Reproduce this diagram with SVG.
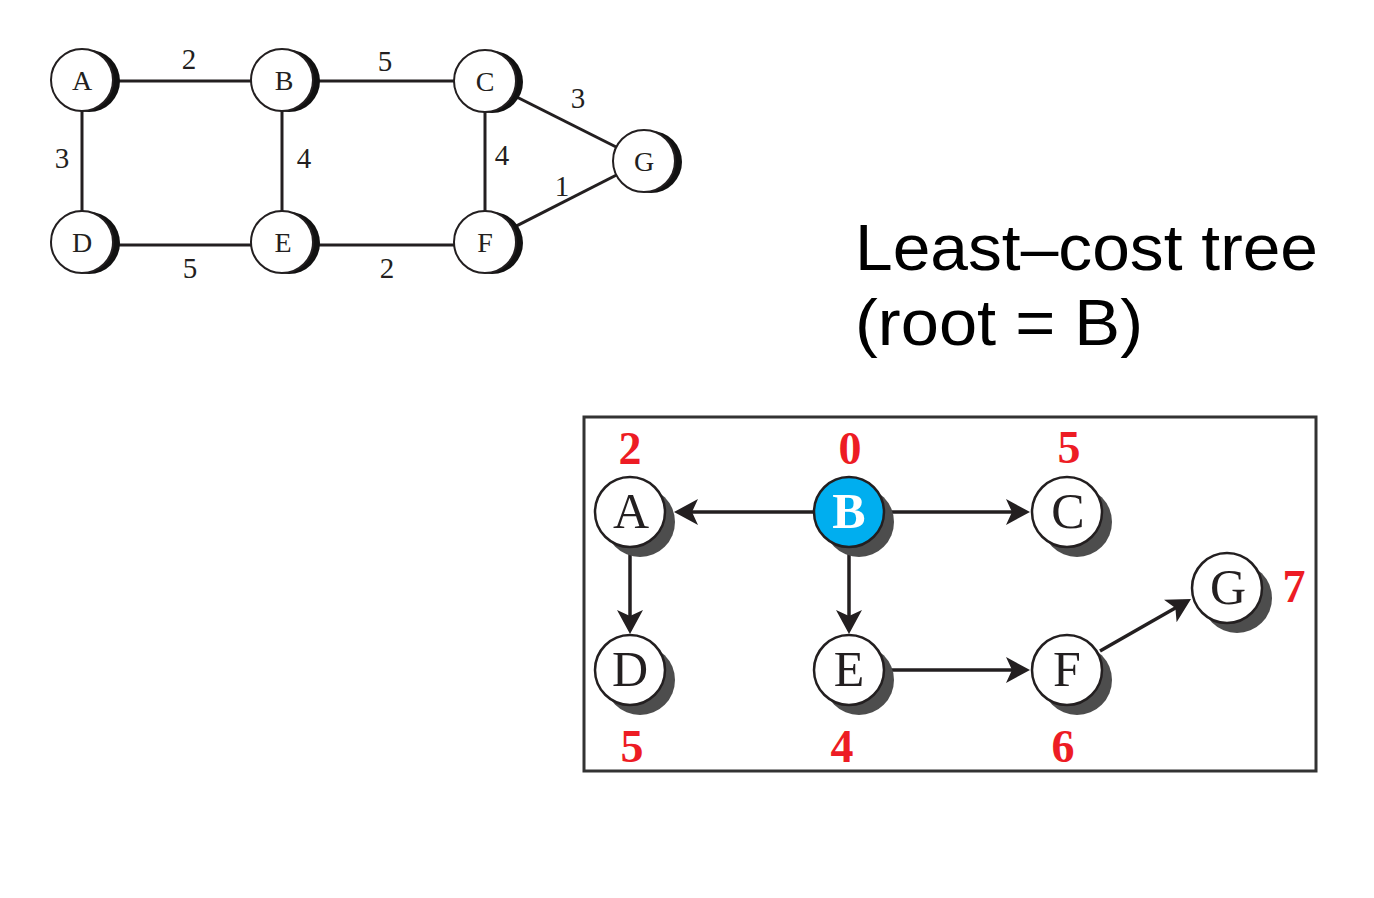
<svg xmlns="http://www.w3.org/2000/svg" width="1374" height="898" viewBox="0 0 1374 898">
<style>
.edge{stroke:#231f20;stroke-width:3;fill:none}
.n1{fill:#fff;stroke:#231f20;stroke-width:2}
.sh1{fill:#111}
.t1{font-family:"Liberation Serif","Times New Roman",serif;font-size:28px;fill:#231f20;text-anchor:middle}
.w1{font-family:"Liberation Serif","Times New Roman",serif;font-size:29px;fill:#231f20;text-anchor:middle}
.arr{stroke:#231f20;stroke-width:3.5;fill:none;marker-end:url(#ah)}
.n2{fill:#fff;stroke:#231f20;stroke-width:2.5}
.sh2{fill:#4d4d4d}
.t2{font-family:"Liberation Serif","Times New Roman",serif;font-size:50px;fill:#231f20;text-anchor:middle}
.c2{font-family:"Liberation Serif","Times New Roman",serif;font-size:46px;font-weight:bold;fill:#ed1c24;text-anchor:middle}
.title{font-family:"Liberation Sans",Arial,sans-serif;font-size:64px;fill:#000}
</style>
<defs>
<marker id="ah" markerUnits="userSpaceOnUse" markerWidth="30" markerHeight="30" refX="18" refY="13" orient="auto">
<path d="M24,13 L0,0 L6,13 L0,26 Z" fill="#231f20"/>
</marker>
</defs>

<!-- Top graph -->
<g id="graph-edges">
<line class="edge" x1="82" y1="81" x2="282" y2="81"/>
<line class="edge" x1="282" y1="81" x2="485" y2="81"/>
<line class="edge" x1="82" y1="80" x2="82" y2="242"/>
<line class="edge" x1="282" y1="80" x2="282" y2="242"/>
<line class="edge" x1="485" y1="81" x2="485" y2="242"/>
<line class="edge" x1="82" y1="245" x2="282" y2="245"/>
<line class="edge" x1="282" y1="245" x2="485" y2="245"/>
<line class="edge" x1="485" y1="81" x2="644" y2="161"/>
<line class="edge" x1="485" y1="242" x2="644" y2="161"/>
</g>
<g id="graph-weights">
<text class="w1" x="189" y="69">2</text>
<text class="w1" x="385" y="71">5</text>
<text class="w1" x="62" y="168">3</text>
<text class="w1" x="304" y="168">4</text>
<text class="w1" x="502" y="165">4</text>
<text class="w1" x="578" y="108">3</text>
<text class="w1" x="562" y="196">1</text>
<text class="w1" x="190" y="278">5</text>
<text class="w1" x="387" y="278">2</text>
</g>
<g id="gA"><circle class="sh1" cx="89" cy="81" r="31"/><circle class="n1" cx="82" cy="80" r="31"/><text class="t1" x="82" y="90">A</text></g>
<g id="gB"><circle class="sh1" cx="289" cy="81" r="31"/><circle class="n1" cx="282" cy="80" r="31"/><text class="t1" x="284" y="90">B</text></g>
<g id="gC"><circle class="sh1" cx="492" cy="82" r="31"/><circle class="n1" cx="485" cy="81" r="31"/><text class="t1" x="485" y="91">C</text></g>
<g id="gD"><circle class="sh1" cx="89" cy="243" r="31"/><circle class="n1" cx="82" cy="242" r="31"/><text class="t1" x="82" y="252">D</text></g>
<g id="gE"><circle class="sh1" cx="289" cy="243" r="31"/><circle class="n1" cx="282" cy="242" r="31"/><text class="t1" x="283" y="252">E</text></g>
<g id="gF"><circle class="sh1" cx="492" cy="243" r="31"/><circle class="n1" cx="485" cy="242" r="31"/><text class="t1" x="485" y="252">F</text></g>
<g id="gG"><circle class="sh1" cx="651" cy="162" r="31"/><circle class="n1" cx="644" cy="161" r="31"/><text class="t1" x="644" y="171">G</text></g>

<!-- Title -->
<g id="title">
<text class="title" x="855" y="270" textLength="463" lengthAdjust="spacingAndGlyphs">Least–cost tree</text>
<text class="title" x="855" y="345" textLength="288" lengthAdjust="spacingAndGlyphs">(root = B)</text>
</g>

<!-- Bottom tree -->
<rect id="frame" x="584" y="417" width="732" height="354" fill="none" stroke="#333" stroke-width="3"/>
<g id="tree-edges">
<line class="arr" x1="813" y1="512" x2="680" y2="512"/>
<line class="arr" x1="885" y1="512" x2="1024" y2="512"/>
<line class="arr" x1="630" y1="548" x2="630" y2="628"/>
<line class="arr" x1="849" y1="548" x2="849" y2="628"/>
<line class="arr" x1="885" y1="670" x2="1024" y2="670"/>
<line class="arr" x1="1100" y1="651" x2="1185.8" y2="602"/>
</g>
<g id="tA"><circle class="sh2" cx="640" cy="522" r="35"/><circle class="n2" cx="630" cy="512" r="35"/><text class="t2" x="631" y="528">A</text></g>
<g id="tB"><circle class="sh2" cx="859" cy="522" r="35"/><circle cx="849" cy="512" r="35" fill="#00aeef" stroke="#231f20" stroke-width="2.5"/><text class="t2" x="849" y="528" style="fill:#fff;font-weight:bold">B</text></g>
<g id="tC"><circle class="sh2" cx="1077" cy="522" r="35"/><circle class="n2" cx="1067" cy="512" r="35"/><text class="t2" x="1068" y="528">C</text></g>
<g id="tD"><circle class="sh2" cx="640" cy="680" r="35"/><circle class="n2" cx="630" cy="670" r="35"/><text class="t2" x="630" y="686">D</text></g>
<g id="tE"><circle class="sh2" cx="859" cy="680" r="35"/><circle class="n2" cx="849" cy="670" r="35"/><text class="t2" x="849" y="686">E</text></g>
<g id="tF"><circle class="sh2" cx="1077" cy="680" r="35"/><circle class="n2" cx="1067" cy="670" r="35"/><text class="t2" x="1067" y="686">F</text></g>
<g id="tG"><circle class="sh2" cx="1237" cy="598" r="35"/><circle class="n2" cx="1227" cy="588" r="35"/><text class="t2" x="1228" y="604">G</text></g>
<g id="costs">
<text class="c2" x="630" y="464">2</text>
<text class="c2" x="850" y="464">0</text>
<text class="c2" x="1069" y="463">5</text>
<text class="c2" x="1294" y="602">7</text>
<text class="c2" x="632" y="762">5</text>
<text class="c2" x="842" y="762">4</text>
<text class="c2" x="1063" y="762">6</text>
</g>
</svg>
